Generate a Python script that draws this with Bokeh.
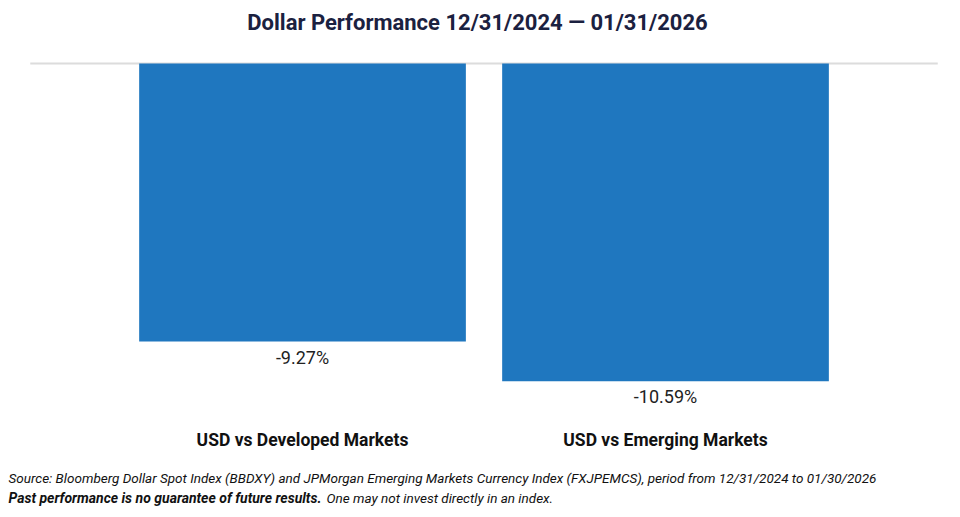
from bokeh.plotting import figure
from bokeh.models import Label, ColumnDataSource, Range1d
from bokeh.embed import file_html
from bokeh.resources import INLINE
from bokeh.core.properties import value

categories = ["USD vs Developed Markets", "USD vs Emerging Markets"]
values = [-9.27, -10.59]
value_labels = ["-9.27%", "-10.59%"]
title_text = "Dollar Performance 12/31/2024 \u2014 01/31/2026"
source_note = ("Source: Bloomberg Dollar Spot Index (BBDXY) and JPMorgan Emerging Markets "
               "Currency Index (FXJPEMCS), period from 12/31/2024 to 01/30/2026")
disclaimer_bold = "Past performance is no guarantee of future results."
disclaimer_rest = "One may not invest directly in an index."

positions = list(range(len(categories)))
src = ColumnDataSource(dict(x=positions, top=values, label=value_labels, cat=categories,
                            zero=[0] * len(positions)))

W, H = 952, 509
p = figure(width=W, height=H, output_backend="svg", toolbar_location=None,
           x_range=Range1d(-0.832, 1.7906), y_range=Range1d(-14.8667, 2.1),
           min_border=0, min_border_left=0, min_border_right=0,
           min_border_top=0, min_border_bottom=0)
p.outline_line_color = None
p.grid.visible = False
p.axis.visible = False

# baseline
p.line(x=[positions[0] - 0.75, positions[-1] + 0.75], y=[0, 0],
       line_color="#dcdcdc", line_width=2)

p.vbar(x="x", top="top", bottom=0, width=0.9, source=src, color="#1f77bf", line_color=None)

p.text(x="x", y="top", text="label", source=src, text_align="center", text_baseline="top",
       y_offset=5, text_font=value("Roboto"), text_font_size="18px", text_color="#222222")

# category labels
p.text(x="x", y="zero", text="cat", source=src, text_align="center", text_baseline="middle",
       y_offset=377, text_font=value("Roboto"), text_font_style="bold",
       text_font_size="17.5px", text_color="#111111")

p.add_layout(Label(x=477, y=H - 22, x_units="screen", y_units="screen", text=title_text,
                   text_align="center", text_baseline="middle", text_font="Roboto",
                   text_font_style="bold", text_font_size="22px", text_color="#1b2140"))
p.add_layout(Label(x=8, y=H - 477, x_units="screen", y_units="screen", text=source_note,
                   text_align="left", text_baseline="middle", text_font="Roboto",
                   text_font_style="italic", text_font_size="13.5px", text_color="#111111"))
p.add_layout(Label(x=8, y=H - 497, x_units="screen", y_units="screen", text=disclaimer_bold,
                   text_align="left", text_baseline="middle", text_font="Roboto",
                   text_font_style="bold italic", text_font_size="14px", text_color="#111111"))
p.add_layout(Label(x=326, y=H - 497, x_units="screen", y_units="screen", text=disclaimer_rest,
                   text_align="left", text_baseline="middle", text_font="Roboto",
                   text_font_style="italic", text_font_size="13.5px", text_color="#111111"))

open("out.html", "w").write(file_html(p, INLINE))
